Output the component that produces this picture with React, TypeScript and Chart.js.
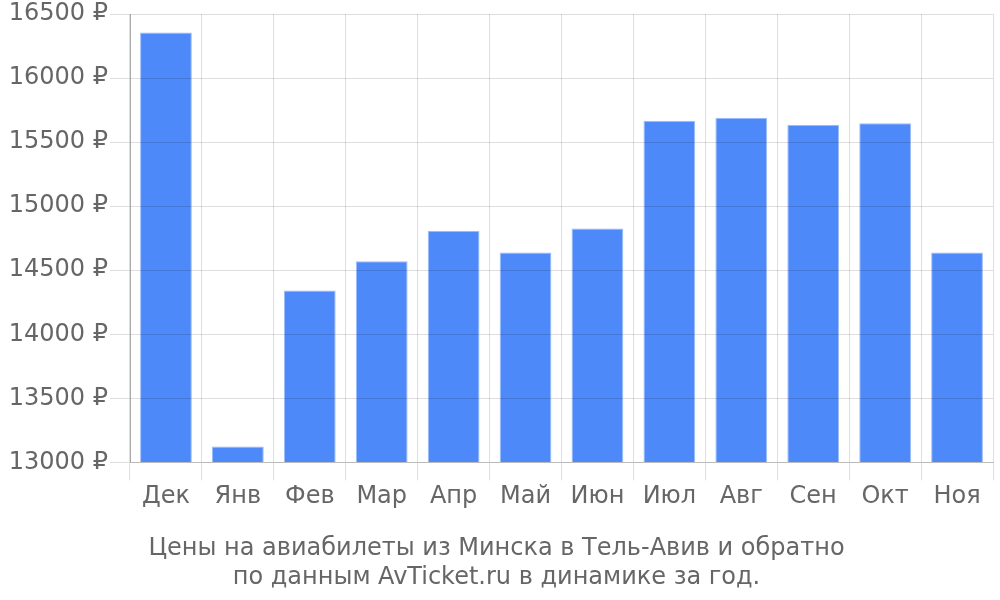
import React, { useEffect, useRef } from 'react';
import { Chart, registerables } from 'chart.js';

Chart.register(...registerables);

const months = ['Дек', 'Янв', 'Фев', 'Мар', 'Апр', 'Май', 'Июн', 'Июл', 'Авг', 'Сен', 'Окт', 'Ноя'];
const prices = [16355, 13125, 14341, 14570, 14808, 14638, 14826, 15667, 15691, 15636, 15648, 14638];
const titleLines = [
  'Цены на авиабилеты из Минска в Тель-Авив и обратно',
  'по данным AvTicket.ru в динамике за год.',
];

const textColor = '#666';
const fontFamily = '"DejaVu Sans", sans-serif';

const App: React.FC = () => {
  const chartRef = useRef<HTMLCanvasElement>(null);
  const chartInstanceRef = useRef<Chart | null>(null);

  useEffect(() => {
    document.body.style.margin = '0';
    if (chartRef.current) {
      const ctx = chartRef.current.getContext('2d');
      if (ctx) {
        if (chartInstanceRef.current) {
          chartInstanceRef.current.destroy();
        }
        chartInstanceRef.current = new Chart(ctx, {
          type: 'bar',
          data: {
            labels: months,
            datasets: [{
              data: prices,
              backgroundColor: '#4e89f9',
              borderColor: '#9dbdfb',
              borderWidth: 1,
              barPercentage: 0.72,
              categoryPercentage: 1,
            }]
          },
          options: {
            responsive: true,
            maintainAspectRatio: false,
            animation: false,
            layout: {
              padding: { top: 14, right: 7, left: 0, bottom: 0 }
            },
            plugins: {
              legend: { display: false },
              tooltip: { enabled: false },
              title: {
                display: true,
                position: 'bottom',
                text: titleLines,
                color: textColor,
                font: { family: fontFamily, size: 24, weight: 'normal', lineHeight: 1.2 },
                padding: { top: 23, bottom: 8 }
              }
            },
            scales: {
              x: {
                grid: {
                  z: 1,
                  color: 'rgba(0,0,0,0.13)',
                  tickLength: 18,
                  offset: true,
                },
                border: { color: '#bbb', z: 2 },
                ticks: {
                  color: textColor,
                  font: { family: fontFamily, size: 24 },
                  padding: 2,
                },
                afterFit: (scale) => { scale.height = 49; }
              },
              y: {
                min: 13000,
                max: 16500,
                grid: {
                  z: 1,
                  color: 'rgba(0,0,0,0.13)',
                  tickLength: 20,
                },
                border: { color: '#aaa', z: 2 },
                ticks: {
                  stepSize: 500,
                  color: textColor,
                  font: { family: fontFamily, size: 24, lineHeight: 1 },
                  padding: 2,
                  callback: (v) => `${v} ₽`,
                },
                afterFit: (scale) => { scale.width = 130; }
              }
            }
          }
        });
      }
    }
    return () => {
      if (chartInstanceRef.current) {
        chartInstanceRef.current.destroy();
        chartInstanceRef.current = null;
      }
    };
  }, []);

  return (
    <div style={{ width: 1000, height: 600, position: 'relative' }}>
      <canvas ref={chartRef}></canvas>
    </div>
  );
};

export default App;
